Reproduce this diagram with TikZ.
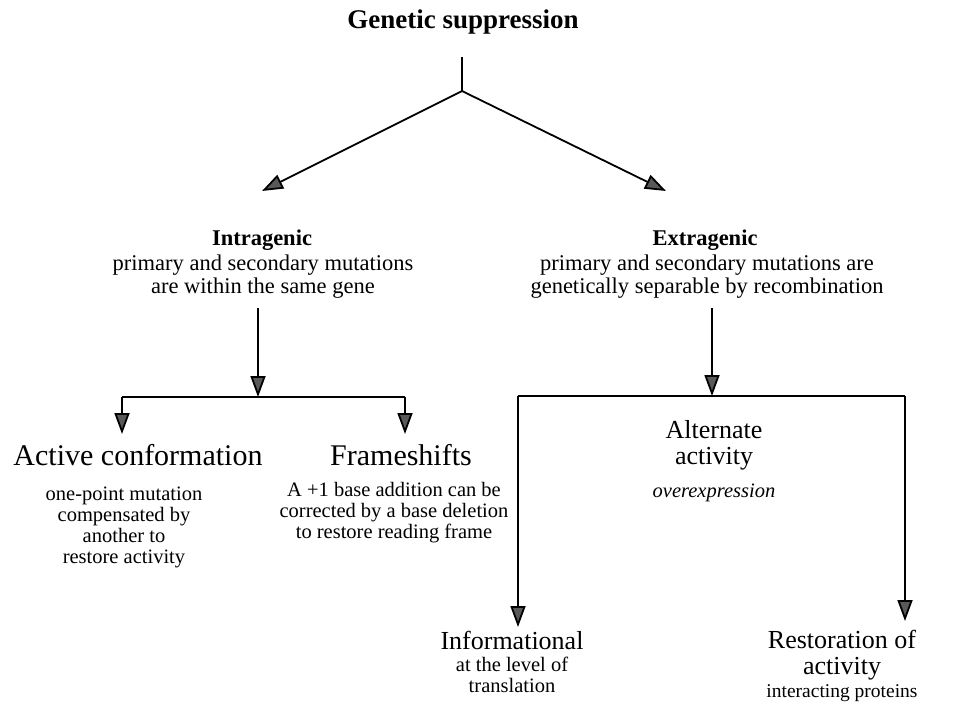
\documentclass[tikz,border=0pt]{standalone}
\usepackage{fontspec}
\setmainfont{Liberation Serif}
\usetikzlibrary{arrows.meta}

\begin{document}
\begin{tikzpicture}[x=1pt,y=-1pt,
    link/.style={line width=1.8pt},
    tip/.style={-{Triangle[length=21pt,width=15pt,fill=black!65]}},
    head/.style={inner sep=1pt,font=\fontsize{22.5}{24}\selectfont\bfseries},
    body/.style={inner sep=1pt,align=center,font=\fontsize{22.5}{23}\selectfont},
    big/.style={inner sep=0pt,align=center,font=\fontsize{30}{30}\selectfont},
    mid/.style={inner sep=0pt,align=center,font=\fontsize{26}{26}\selectfont},
    note/.style={inner sep=0pt,align=center,font=\fontsize{20.5}{21}\selectfont}]
	\useasboundingbox (0,0) rectangle (972,705);
	% top
	\node (title) at (463,22) {\fontsize{27}{30}\selectfont\bfseries Genetic suppression};
	\coordinate (top) at (462,57);
	\coordinate (fork) at (462,91);
	\coordinate (intratip) at (262,191);
	\coordinate (extratip) at (666,191);
	\draw[link] (top) -- (fork);
	\draw[link,tip] (fork) -- (intratip);
	\draw[link,tip] (fork) -- (extratip);
	% second level
	\node[head] (intra) at (262,240) {Intragenic};
	\node[body] (intratext) at (263,277) {primary and secondary mutations\\are within the same gene};
	\node[head] (extra) at (705,240) {Extragenic};
	\node[body] (extratext) at (707,277) {primary and secondary mutations are\\genetically separable by recombination};
	% intragenic branch
	\coordinate (intraout) at (258,308);
	\coordinate (intrabar) at (258,397);
	\coordinate (actbar) at (122,397);
	\coordinate (framebar) at (405,397);
	\coordinate (acttip) at (122,434);
	\coordinate (frametip) at (405,434);
	\draw[link,tip] (intraout) -- (intrabar);
	\draw[link] (actbar) -- (framebar);
	\draw[link,tip] (actbar) -- (acttip);
	\draw[link,tip] (framebar) -- (frametip);
	% extragenic branch
	\coordinate (extraout) at (712,308);
	\coordinate (extrabar) at (712,396);
	\coordinate (infobar) at (518,396);
	\coordinate (restbar) at (905,396);
	\coordinate (infotip) at (518,627);
	\coordinate (resttip) at (905,621);
	\draw[link,tip] (extraout) -- (extrabar);
	\draw[link] (infobar) -- (restbar);
	\draw[link,tip] (infobar) -- (infotip);
	\draw[link,tip] (restbar) -- (resttip);
	% leaves
	\node[big] (active) at (138,455) {Active conformation};
	\node[note] (activetext) at (124,527) {one-point mutation\\compensated by\\another to\\restore activity};
	\node[big] (frame) at (401,455) {Frameshifts};
	\node[note] (frametext) at (394,513) {A +1 base addition can be\\corrected by a base deletion\\to restore reading frame};
	\node[mid] (alternate) at (714,445) {Alternate\\activity};
	\node[note] (alternatetext) at (714,493) {\itshape overexpression};
	\node[mid] (info) at (512,640) {Informational};
	\node[note] (infotext) at (512,675) {at the level of\\translation};
	\node[mid] (rest) at (842,655) {Restoration of\\activity};
	\node[note,font=\fontsize{19.5}{21}\selectfont] (resttext) at (842,693) {interacting proteins};
\end{tikzpicture}
\end{document}
